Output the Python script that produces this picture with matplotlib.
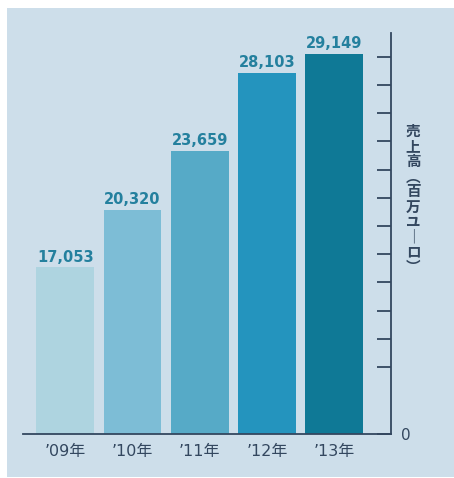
import matplotlib
matplotlib.use('Agg')
import matplotlib.pyplot as plt
from matplotlib.patches import Rectangle

plt.rcParams['font.family'] = ['DejaVu Sans', 'Noto Sans CJK JP']

# data
years = ['\u201909年', '\u201910年', '\u201911年', '\u201912年', '\u201913年']
sales = [17053, 20320, 23659, 28103, 29149]
bar_colors = ['#aed4e0', '#7dbdd6', '#56aac7', '#2494be', '#0f7996']
tick_vals = [11400, 13000, 14600, 16200, 17800, 19400, 21000, 22600, 24200, 25800, 27400, 29000]
ylabel_chars = ['売', '上', '高', '︵', '百', '万', 'ユ', '｜', 'ロ', '︶']

axis_col = '#33475f'
label_col = '#24809e'
panel_col = '#cddeea'

fig = plt.figure(figsize=(4.54, 4.78), dpi=100)
fig.patch.set_facecolor('white')

# light blue panel behind everything
fig.patches.append(Rectangle((7 / 454, 1 / 478), 1 - 7 / 454, (478 - 8 - 1) / 478,
                             transform=fig.transFigure, facecolor=panel_col,
                             edgecolor='none', zorder=-10))

ax = fig.add_axes([23 / 454, 44 / 478, (391 - 23) / 454, (434 - 33) / 478])
ax.set_facecolor('none')

x = range(len(sales))
ax.bar(x, sales, width=0.856, color=bar_colors, zorder=2)

for i, v in enumerate(sales):
    ax.annotate(f'{v:,}', (i, v), xytext=(0, 2), textcoords='offset points',
                ha='center', va='bottom', fontsize=10.5, fontweight='bold',
                color=label_col)

ax.set_xlim(-0.628, 4.844)
ax.set_ylim(7600, 30350)

ax.set_xticks(list(x))
ax.set_xticklabels(years, fontsize=11.5, color=axis_col)
ax.tick_params(axis='x', length=0, pad=7)

ax.yaxis.tick_right()
ax.set_yticks([7600] + tick_vals)
ax.set_yticklabels(['0'] + [''] * len(tick_vals), fontsize=11, color=axis_col)
ax.tick_params(axis='y', direction='in', length=10, width=1.3, color=axis_col, pad=7)

for s in ['top', 'left']:
    ax.spines[s].set_visible(False)
for s in ['bottom', 'right']:
    ax.spines[s].set_color(axis_col)
    ax.spines[s].set_linewidth(1.3)

# vertical label, one character per line
fig.text(413 / 454, (478 - 123) / 478, '\n'.join(ylabel_chars), ha='center', va='top',
         fontsize=10.5, color=axis_col, linespacing=0.93, fontweight='bold',
         family=['Noto Sans CJK JP', 'DejaVu Sans'])

fig.savefig('out.png', dpi=100, facecolor=fig.get_facecolor())
